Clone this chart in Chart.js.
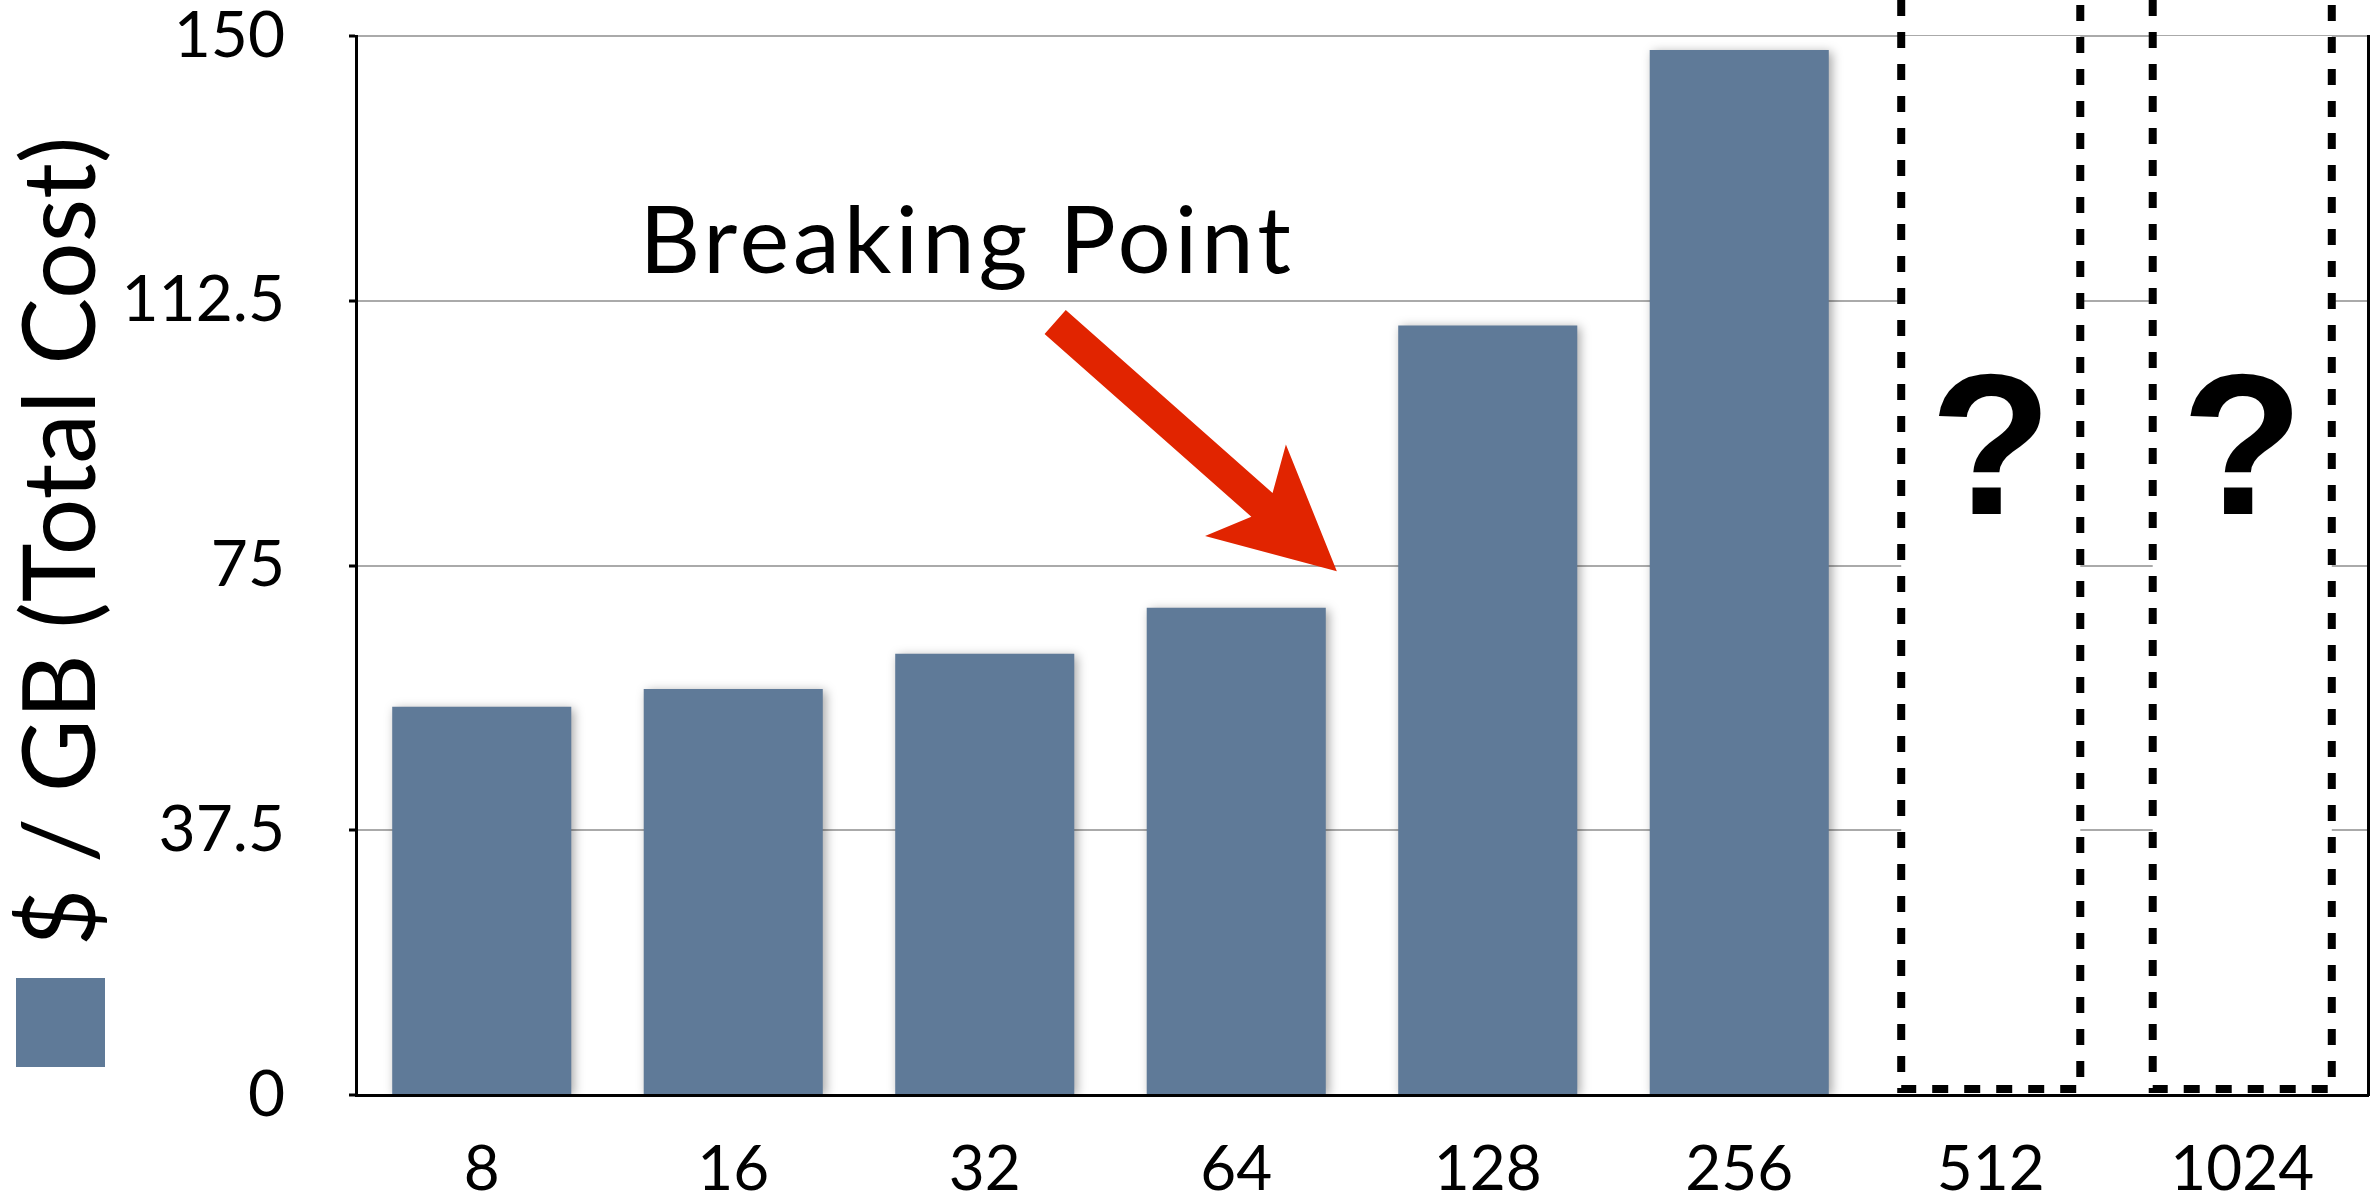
<!DOCTYPE html>
<html>
<head>
<meta charset="utf-8">
<title>$ / GB (Total Cost)</title>
<script src="https://cdn.jsdelivr.net/npm/chart.js@4.4.1/dist/chart.umd.min.js"></script>
<style>
  html, body { margin: 0; padding: 0; background: #fff; }
</style>
</head>
<body>
<canvas id="costChart" width="2370" height="1194"></canvas>
<script>
// Søylediagram: kostnad per GB for ulike storleikar
// Dei to siste søylene er ukjende og blir teikna som stipla boksar

const capacities = ['8', '16', '32', '64', '128', '256', '512', '1024'];
const costPerGB = [55, 57.5, 62.5, 69, 109, 148, null, null];
const unknownBars = [null, null, null, null, null, null, 150, 150];
const yTicks = [0, 37.5, 75, 112.5, 150];

// Pila og teksten er plasserte i aksane sine einingar (kategori-indeks, verdi)
const breakingText = { label: 'Breaking Point', x: 1.93, y: 116.4 };
const breakingArrow = { from: [2.28, 109.5], to: [3.40, 74.2] };

const font = 'Lato, "Open Sans", sans-serif';
const barColour = '#5f7a98';

function drawArrow(ctx, x0, y0, x1, y1) {
  const len = Math.hypot(x1 - x0, y1 - y0);
  ctx.save();
  ctx.translate(x0, y0);
  ctx.rotate(Math.atan2(y1 - y0, x1 - x0));
  ctx.beginPath();
  ctx.moveTo(0, -16);
  ctx.lineTo(len - 100, -16);
  ctx.lineTo(len - 122, -61);
  ctx.lineTo(len, 0);
  ctx.lineTo(len - 122, 61);
  ctx.lineTo(len - 100, 16);
  ctx.lineTo(0, 16);
  ctx.closePath();
  ctx.fillStyle = '#e12400';
  ctx.fill();
  ctx.restore();
}

const decor = {
  id: 'decor',
  beforeDatasetDraw(chart, args) {
    if (args.index !== 0) return;
    const ctx = chart.ctx;
    ctx.save();
    ctx.shadowColor = 'rgba(0, 0, 0, 0.35)';
    ctx.shadowBlur = 10;
    ctx.shadowOffsetX = 3;
    ctx.shadowOffsetY = 2;
  },
  afterDatasetDraw(chart, args) {
    if (args.index === 0) chart.ctx.restore();
  },
  afterDatasetsDraw(chart) {
    const ctx = chart.ctx;
    const xs = chart.scales.x;
    const ys = chart.scales.y;

    // stipla boksar og spørjeteikn
    chart.getDatasetMeta(1).data.forEach((bar, i) => {
      if (unknownBars[i] == null) return;
      const { x, width, base } = bar.getProps(['x', 'width', 'base'], true);
      const l = x - width / 2;
      const r = x + width / 2;
      const b = base - 5;
      ctx.save();
      ctx.strokeStyle = '#000';
      ctx.lineWidth = 8;
      ctx.setLineDash([16, 16]);
      ctx.beginPath();
      ctx.moveTo(l, 0);
      ctx.lineTo(l, b);
      ctx.lineTo(r, b);
      ctx.lineTo(r, 0);
      ctx.stroke();
      ctx.setLineDash([]);
      ctx.fillStyle = '#000';
      ctx.font = 'bold 200px "Liberation Sans", Arial, sans-serif';
      ctx.textAlign = 'center';
      ctx.textBaseline = 'alphabetic';
      ctx.fillText('?', x, ys.getPixelForValue(82.3));
      ctx.restore();
    });

    // "Breaking Point" med pil
    ctx.save();
    ctx.fillStyle = '#000';
    ctx.font = '94px ' + font;
    ctx.letterSpacing = '4px';
    ctx.textAlign = 'center';
    ctx.textBaseline = 'alphabetic';
    ctx.fillText(breakingText.label, xs.getPixelForValue(breakingText.x), ys.getPixelForValue(breakingText.y));
    ctx.restore();
    drawArrow(ctx,
      xs.getPixelForValue(breakingArrow.from[0]), ys.getPixelForValue(breakingArrow.from[1]),
      xs.getPixelForValue(breakingArrow.to[0]), ys.getPixelForValue(breakingArrow.to[1]));
  },
  afterDraw(chart) {
    const ctx = chart.ctx;
    const area = chart.chartArea;
    // aksetittel
    ctx.save();
    ctx.translate(95, (area.top + area.bottom) / 2 - 24);
    ctx.rotate(-Math.PI / 2);
    ctx.fillStyle = '#000';
    ctx.font = '100px ' + font;
    ctx.textAlign = 'center';
    ctx.textBaseline = 'alphabetic';
    ctx.fillText('$ / GB (Total Cost)', 0, 0);
    ctx.restore();
    // forklaring (berre fargeruta)
    ctx.fillStyle = barColour;
    ctx.fillRect(16, area.bottom - 117, 89, 89);
  }
};

const ctx = document.getElementById('costChart');

new Chart(ctx, {
  type: 'bar',
  data: {
    labels: capacities,
    datasets: [{
      label: '$ / GB (Total Cost)',
      data: costPerGB,
      backgroundColor: barColour,
      grouped: false,
      barPercentage: 0.712,
      categoryPercentage: 1
    }, {
      label: '?',
      data: unknownBars,
      backgroundColor: '#fff',
      grouped: false,
      barPercentage: 0.712,
      categoryPercentage: 1
    }]
  },
  options: {
    responsive: false,
    animation: false,
    devicePixelRatio: 1,
    layout: { padding: { top: 36, right: 2, bottom: 0, left: 0 } },
    plugins: {
      legend: { display: false },
      tooltip: { enabled: false }
    },
    scales: {
      x: {
        grid: { display: false, drawTicks: false },
        border: { color: '#000', width: 3 },
        ticks: { color: '#000', font: { family: font, size: 62 }, padding: 38 },
        afterFit(scale) { scale.height = 99; }
      },
      y: {
        min: 0,
        max: 150,
        afterBuildTicks(scale) { scale.ticks = yTicks.map(v => ({ value: v })); },
        grid: { color: '#aaaaaa', lineWidth: 2, tickLength: 7, tickColor: '#000', tickWidth: 3 },
        border: { color: '#000', width: 3 },
        ticks: {
          color: '#000',
          font: { family: font, size: 64 },
          padding: 64,
          callback: v => String(v)
        },
        afterFit(scale) {
          scale.width = 356;
          scale.paddingTop = 0;
          scale.paddingBottom = 0;
        }
      },
      yRight: {
        position: 'right',
        min: 0,
        max: 150,
        grid: { display: false, drawTicks: false },
        ticks: { display: false },
        border: { color: '#000', width: 3 },
        afterFit(scale) {
          scale.paddingTop = 0;
          scale.paddingBottom = 0;
        }
      }
    }
  },
  plugins: [decor]
});
</script>
</body>
</html>
